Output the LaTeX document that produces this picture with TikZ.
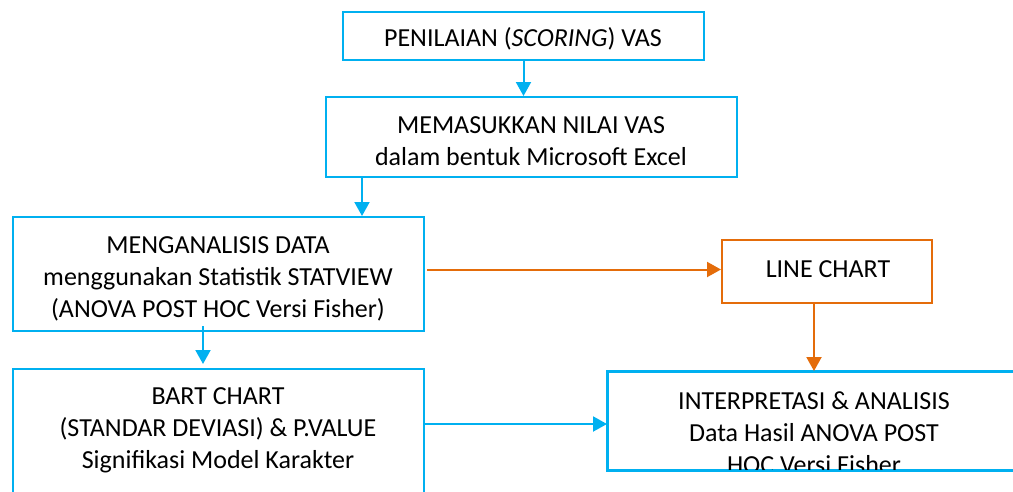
\documentclass[tikz,border=0pt]{standalone}
\usepackage{fontspec}
\setmainfont{Carlito}
\usetikzlibrary{arrows.meta,calc}
\definecolor{flowblue}{RGB}{0,176,240}
\definecolor{floworange}{RGB}{228,108,10}
\tikzset{
  box/.style={draw=flowblue, line width=2pt, rectangle, inner sep=0pt},
  obox/.style={draw=floworange, line width=2pt, rectangle, inner sep=0pt},
  ln/.style={inner sep=0pt, anchor=base, font=\fontsize{26}{32}\selectfont},
  barrow/.style={draw=flowblue, line width=2pt, -{Triangle[length=14pt,width=15pt]}},
  oarrow/.style={draw=floworange, line width=2pt, -{Triangle[length=14pt,width=15pt]}},
}
\begin{document}
\begin{tikzpicture}[x=1pt,y=-1pt]
\useasboundingbox (0,0) rectangle (1013,491);
\clip (0,0) rectangle (1013,491);
\fill[white] (0,0) rectangle (1013,491);

% boxes and their lines of text (placed by baseline)
\node[box, minimum width=361pt, minimum height=48pt] (score) at (523.5,36) {};
\node[ln] (score1) at (523,46) {PENILAIAN (\textit{SCORING}) VAS};

\node[box, minimum width=411pt, minimum height=80pt] (excel) at (531.5,137) {};
\node[ln] (excel1) at (531,133) {MEMASUKKAN NILAI VAS};
\node[ln] (excel2) at (531,165) {dalam bentuk Microsoft Excel};

\node[box, minimum width=411pt, minimum height=114pt] (anal) at (218.5,274) {};
\node[ln] (anal1) at (218,253) {MENGANALISIS DATA};
\node[ln] (anal2) at (218,285) {menggunakan Statistik STATVIEW};
\node[ln] (anal3) at (218,317) {(ANOVA POST HOC Versi Fisher)};

\node[box, minimum width=411pt, minimum height=160pt, anchor=north] (bart) at (218.5,368) {};
\node[ln] (bart1) at (218,404) {BART CHART};
\node[ln] (bart2) at (218,436) {(STANDAR DEVIASI) \& P.VALUE};
\node[ln] (bart3) at (218,468) {Signifikasi Model Karakter};

\node[obox, minimum width=210pt, minimum height=63pt] (line) at (827,271.5) {};
\node[ln] (line1) at (828,277) {LINE CHART};

\node[box, minimum width=412pt, minimum height=98pt] (interp) at (814,421) {};
\node[ln] (interp1) at (814,409) {INTERPRETASI \& ANALISIS};
\node[ln] (interp2) at (814,441) {Data Hasil ANOVA POST};
\begin{scope}
  \clip (interp.south west) rectangle (interp.north east);
  \node[ln] (interp3) at (814,473) {HOC Versi Fisher};
\end{scope}
\draw[flowblue, line width=2pt] (interp.south west) rectangle (interp.north east);

% connectors
\draw[barrow] (score.south) -- (score.south |- excel.north);
\draw[barrow] ($(excel.south west)+(37,0)$) coordinate (e2) -- (e2 |- anal.north);
\draw[barrow] ($(anal.south west)+(191,-6)$) coordinate (a2) -- ($(a2 |- bart.north)+(0,-4)$);
\draw[oarrow] (anal.east |- line.west) ++(2,-2) coordinate (a3) -- (a3 -| line.west);
\draw[oarrow] ($(line.south)+(-13,0)$) coordinate (l2) -- (l2 |- interp.north);
\draw[barrow] (bart.east |- interp.west) ++(0,3) coordinate (b2) -- (b2 -| interp.west);
\end{tikzpicture}
\end{document}
